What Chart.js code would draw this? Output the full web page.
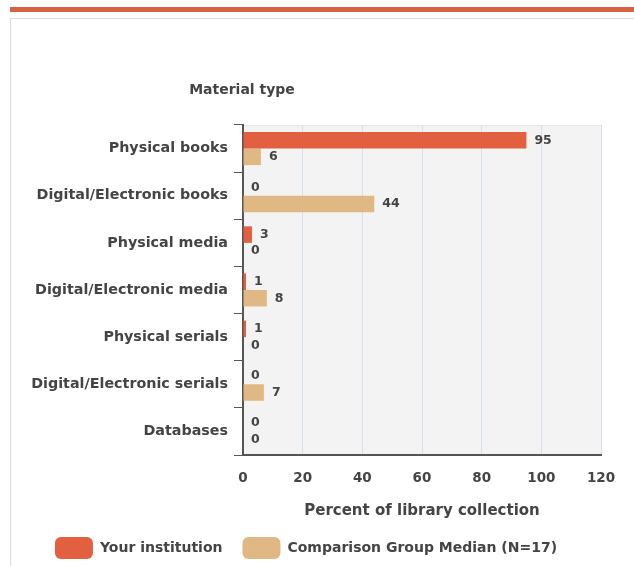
<!DOCTYPE html>
<html>
<head>
<meta charset="utf-8">
<script src="https://cdn.jsdelivr.net/npm/chart.js@4"></script>
<style>
    body { margin: 0; background: #fff; width: 634px; height: 566px; overflow: hidden; position: relative; }
    .topbar { position: absolute; left: 10px; top: 7px; width: 624px; height: 5px; background: #d9613f; }
    .frame { position: absolute; left: 10px; top: 18px; width: 640px; height: 600px; border-left: 1px solid #dcdcdc; border-top: 1px solid #dcdcdc; }
    .wrap { position: absolute; left: 11px; top: 19px; width: 623px; height: 550px; }
</style>
</head>
<body>
<div class="topbar"></div>
<div class="frame"></div>
<div class="wrap"><canvas id="materialChart"></canvas></div>
<script>
const categories = ['Physical books', 'Digital/Electronic books', 'Physical media', 'Digital/Electronic media', 'Physical serials', 'Digital/Electronic serials', 'Databases'];
const yourInstitution = [95, 0, 3, 1, 1, 0, 0];
const comparisonMedian = [6, 44, 0, 8, 0, 7, 0];
const xTicks = [0, 20, 40, 60, 80, 100, 120];

const FONT = '"DejaVu Sans", Verdana, sans-serif';

document.addEventListener("DOMContentLoaded", () => {
    // plot background + title + value labels
    const decor = {
        id: 'decor',
        beforeDraw(chart) {
            const { ctx, chartArea: a } = chart;
            ctx.save();
            ctx.fillStyle = '#f3f3f3';
            ctx.fillRect(a.left, a.top, a.right - a.left, a.bottom - a.top);
            ctx.strokeStyle = '#e2e6ec';
            ctx.lineWidth = 1;
            ctx.beginPath();
            ctx.moveTo(a.left, a.top + 0.5);
            ctx.lineTo(a.right, a.top + 0.5);
            ctx.stroke();
            ctx.restore();
        },
        afterDraw(chart) {
            const { ctx, chartArea: a } = chart;
            ctx.save();
            ctx.font = 'bold 14px ' + FONT;
            ctx.fillStyle = '#444';
            ctx.textAlign = 'center';
            ctx.textBaseline = 'middle';
            ctx.fillText('Material type', a.left - 1, 71);

            ctx.font = 'bold 12.5px ' + FONT;
            ctx.fillStyle = '#444';
            ctx.textAlign = 'left';
            chart.data.datasets.forEach((ds, i) => {
                chart.getDatasetMeta(i).data.forEach((bar, j) => {
                    ctx.fillText(String(ds.data[j]), bar.x + 8, bar.y);
                });
            });
            ctx.restore();
        }
    };

    const ctx = document.getElementById('materialChart').getContext('2d');
    new Chart(ctx, {
        type: 'bar',
        data: {
            labels: categories,
            datasets: [{
                label: 'Your institution',
                data: yourInstitution,
                backgroundColor: '#e2603f',
                categoryPercentage: 0.7,
                barPercentage: 1.0
            }, {
                label: 'Comparison Group Median (N=17)',
                data: comparisonMedian,
                backgroundColor: '#e0b884',
                categoryPercentage: 0.7,
                barPercentage: 1.0
            }]
        },
        options: {
            indexAxis: 'y',
            responsive: true,
            maintainAspectRatio: false,
            animation: false,
            layout: { padding: { top: 106, right: 33, left: 0, bottom: 0 } },
            scales: {
                x: {
                    min: 0,
                    max: 120,
                    afterBuildTicks: scale => { scale.ticks = xTicks.map(v => ({ value: v })); },
                    afterFit: scale => { scale.height = 62; },
                    grid: { color: '#d6dfec', drawTicks: false },
                    border: { color: '#555', width: 2 },
                    ticks: { color: '#444', padding: 15, font: { family: FONT, size: 13.5, weight: 'bold' } },
                    title: {
                        display: true,
                        text: 'Percent of library collection',
                        color: '#444',
                        padding: { top: 10, bottom: -3 },
                        font: { family: FONT, size: 15, weight: 'bold' }
                    }
                },
                y: {
                    afterFit: scale => { scale.width = 232; },
                    grid: { drawOnChartArea: false, drawTicks: true, tickLength: 9, offset: true, color: '#555' },
                    border: { color: '#555', width: 2 },
                    ticks: { color: '#444', padding: 6, font: { family: FONT, size: 14.3, weight: 'bold' } }
                }
            },
            plugins: {
                legend: {
                    position: 'bottom',
                    labels: {
                        boxWidth: 38,
                        boxHeight: 22,
                        useBorderRadius: true,
                        borderRadius: 6,
                        padding: 20,
                        color: '#444',
                        font: { family: FONT, size: 14, weight: 'bold' }
                    }
                },
                tooltip: { enabled: false }
            }
        },
        plugins: [decor]
    });
});
</script>
</body>
</html>
